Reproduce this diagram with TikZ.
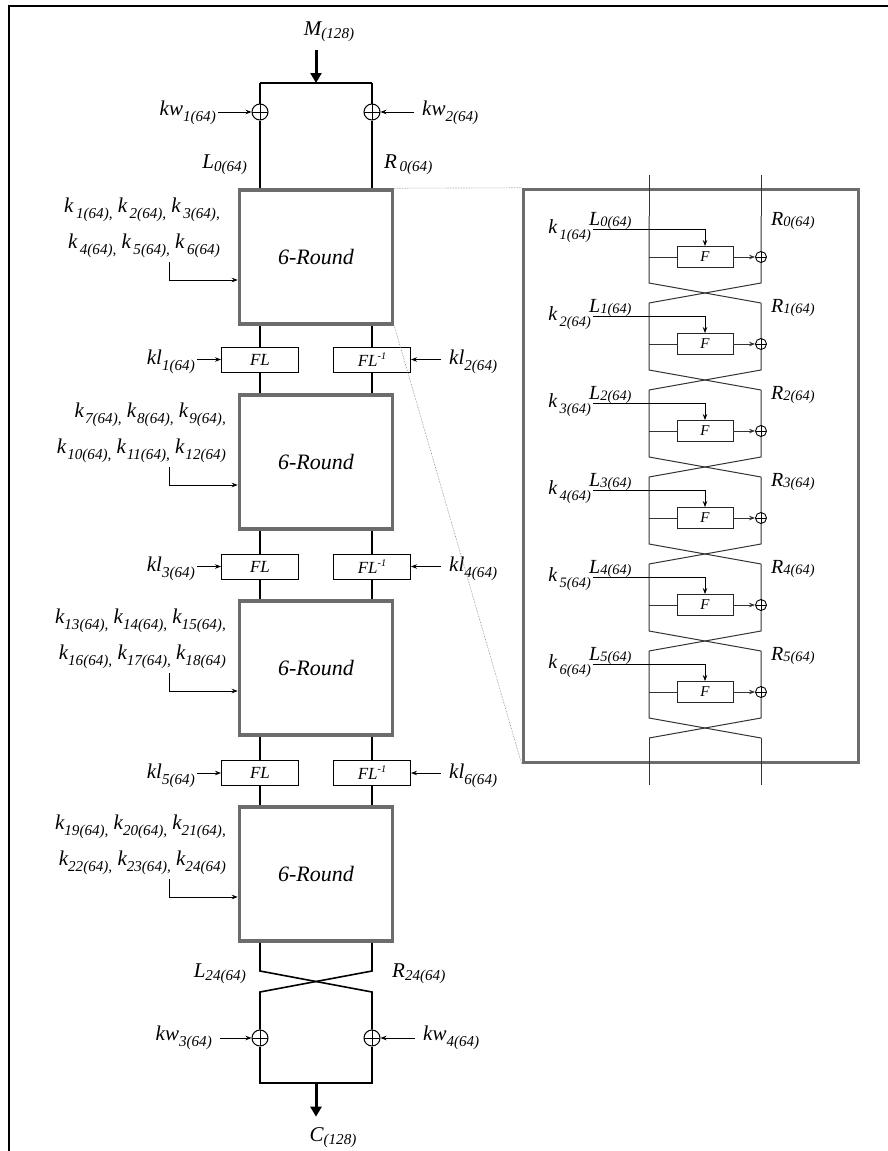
\documentclass[tikz,border=0pt]{standalone}
\usepackage{fontspec}
\setmainfont{Liberation Serif}
\usetikzlibrary{arrows.meta}

\makeatletter
\newcommand{\sbx}[3][.3em]{#2\raisebox{-#1}{\@tempdima=.72\dimexpr\f@size pt\relax\fontsize{\@tempdima}{\@tempdima}\selectfont #3}}
\newcommand{\spx}[2]{#1\raisebox{.42em}{\@tempdima=.6\dimexpr\f@size pt\relax\fontsize{\@tempdima}{\@tempdima}\selectfont #2}}
\makeatother

\tikzset{
    lbl/.style={font=\fontsize{21}{24}\selectfont\itshape, inner sep=2pt},
    plbl/.style={font=\fontsize{20}{22}\selectfont\itshape, inner sep=1pt},
    greyframe/.style={draw=gray!85!black, line width=3.5pt},
    roundbox/.style={greyframe, minimum width=153pt, minimum height=134pt,
        font=\fontsize{22}{24}\selectfont\itshape},
    flbox/.style={draw, line width=1pt, minimum width=77pt, minimum height=25pt,
        inner sep=0pt, font=\fontsize{17}{19}\selectfont\itshape},
    fbox/.style={draw=black!85, line width=.9pt, minimum width=56pt, minimum height=21pt,
        inner sep=0pt, font=\fontsize{15}{17}\selectfont\itshape},
    xorbig/.style={circle, draw, line width=1pt, fill=white, minimum size=16pt, inner sep=0pt,
        path picture={\draw (path picture bounding box.north) -- (path picture bounding box.south)
            (path picture bounding box.west) -- (path picture bounding box.east);}},
    xorsm/.style={xorbig, minimum size=11pt, line width=.9pt},
    wire/.style={line width=1.6pt},
    pwire/.style={line width=1pt, draw=black!80},
    keyarr/.style={line width=.8pt, -{Stealth[length=6pt,width=4.5pt]}},
    bigarr/.style={line width=3pt, -{Triangle[length=10pt,width=11pt]}},
    zoomline/.style={densely dotted, line width=.6pt, draw=gray}
}

\begin{document}
\begin{tikzpicture}[x=1pt,y=-1pt]
    \useasboundingbox (0,0) rectangle (888,1151);
    \draw[line width=2.2pt] (9,1151) -- (9,6) -- (888,6);

    \node[lbl] (M) at (329,32) {\sbx[.15em]{M}{(128)}};
    \coordinate (tl) at (260,83);
    \coordinate (tr) at (372,83);
    \coordinate (tm) at (316,83);
    \draw[wire] (tl) -- (tr);
    \draw[bigarr, shorten <=6pt] (M.south -| tm) -- (tm);

    \node[xorbig] (x1) at (260,112) {};
    \node[xorbig] (x2) at (372,112) {};
    \node[lbl, anchor=base east] (kw1) at (218,115) {\sbx{kw}{1(64)}};
    \node[lbl, anchor=base west] (kw2) at (420,115) {\sbx{kw}{2(64)}};
    \draw[keyarr] (kw1.east |- x1) -- (x1.west);
    \draw[keyarr, shorten <=6pt] (kw2.west |- x2) -- (x2.east);
    \draw[wire] (tl) -- (x1.north);
    \draw[wire] (tr) -- (x2.north);

    \node[lbl, anchor=base east] (l0) at (249,168) {\sbx[.15em]{L}{0(64)}};
    \node[lbl, anchor=base west] (r0) at (382,168) {\sbx[.15em]{R}{\,0(64)}};

    \foreach \i/\yy/\xe/\g/\a/\b/\c/\d/\e/\f in {1/257/222/2.5pt/1/2/3/4/5/6,
        2/462/228/1pt/7/8/9/10/11/12, 3/668/228/0pt/13/14/15/16/17/18,
        4/874/228/0pt/19/20/21/22/23/24}{
        \node[roundbox] (rd\i) at (316,\yy) {6-Round};
        \node[lbl, anchor=base east] (ka\i) at (\xe,\yy-45)
            {\sbx{k}{\hspace{\g}\a(64),} \sbx{k}{\hspace{\g}\b(64),} \sbx{k}{\hspace{\g}\c(64),}};
        \node[lbl, anchor=base east] (kc\i) at (\xe,\yy-9)
            {\sbx{k}{\hspace{\g}\d(64),} \sbx{k}{\hspace{\g}\e(64),} \sbx{k}{\hspace{\g}\f(64)}};
        \coordinate (kb\i) at (169,\yy+5);
        \draw[keyarr] (kb\i) |- ([yshift=-23pt]rd\i.west);
    }

    \draw[wire] (x1.south) -- (rd1.north -| x1);
    \draw[wire] (x2.south) -- (rd1.north -| x2);

    \foreach \j/\n/\yy/\a/\b in {1/2/359.5/1/2, 2/3/566.5/3/4, 3/4/773/5/6}{
        \node[flbox] (fl\j) at (260,\yy) {FL};
        \node[flbox] (fi\j) at (372,\yy) {\spx{FL}{-1}};
        \node[lbl, anchor=base east] (kla\j) at (197,\yy+5) {\sbx{kl}{\a(64)}};
        \node[lbl, anchor=base west] (klb\j) at (447,\yy+5) {\sbx{kl}{\b(64)}};
        \draw[keyarr] (kla\j.east |- fl\j) -- (fl\j.west);
        \draw[keyarr, shorten <=6pt] (klb\j.west |- fi\j) -- (fi\j.east);
        \draw[wire] (rd\j.south -| fl\j) -- (fl\j.north);
        \draw[wire] (rd\j.south -| fi\j) -- (fi\j.north);
        \draw[wire] (fl\j.south) -- (rd\n.north -| fl\j);
        \draw[wire] (fi\j.south) -- (rd\n.north -| fi\j);
    }

    \coordinate (cl1) at (260,971);
    \coordinate (cr1) at (372,971);
    \coordinate (cl2) at (260,992);
    \coordinate (cr2) at (372,992);
    \node[lbl, anchor=base east] (l24) at (248,977) {\sbx[.15em]{L}{24(64)}};
    \node[lbl, anchor=base west] (r24) at (390,977) {\sbx[.15em]{R}{24(64)}};
    \node[xorbig] (x3) at (260,1038) {};
    \node[xorbig] (x4) at (372,1038) {};
    \draw[wire] (rd4.south -| cl1) -- (cl1) -- (cr2) -- (x4.north);
    \draw[wire] (rd4.south -| cr1) -- (cr1) -- (cl2) -- (x3.north);
    \node[lbl, anchor=base east] (kw3) at (214,1040) {\sbx{kw}{3(64)}};
    \node[lbl, anchor=base west] (kw4) at (421,1040) {\sbx{kw}{4(64)}};
    \draw[keyarr, shorten <=6pt] (kw3.east |- x3) -- (x3.west);
    \draw[keyarr, shorten <=6pt] (kw4.west |- x4) -- (x4.east);

    \coordinate (bl) at (260,1083);
    \coordinate (br) at (372,1083);
    \coordinate (bm) at (316,1083);
    \draw[wire] (x3.south) -- (bl) -- (br) -- (x4.south);
    \node[lbl] (C) at (333,1138) {\sbx[.15em]{C}{(128)}};
    \draw[bigarr, shorten >=9pt] (bm) -- (C.north -| bm);

    % zoomed 6-round
    \node[greyframe, minimum width=335pt, minimum height=573pt] (panel) at (691,476) {};
    \draw[zoomline] (rd1.north east) -- (panel.north west);
    \draw[zoomline] (rd1.south east) -- (panel.south west);

    \coordinate (pl) at (649,0);
    \coordinate (pr) at (761,0);
    \draw[pwire] (649,175) -- (649,216);
    \draw[pwire] (761,175) -- (761,216);
    \draw[pwire] (649,738) -- (649,785);
    \draw[pwire] (761,738) -- (761,785);

    \foreach \i [evaluate=\i as \yf using {257+87*\i}, evaluate=\i as \n using {int(\i+1)}] in {0,...,5}{
        \draw[pwire] (649,\yf-41) -- (649,\yf+26) -- (761,\yf+46);
        \draw[pwire] (761,\yf-41) -- (761,\yf+26) -- (649,\yf+46);
        \node[fbox] (F\i) at (705,\yf) {F};
        \node[xorsm] (px\i) at (761,\yf) {};
        \draw[pwire] (F\i.west -| pl) -- (F\i.west);
        \draw[pwire, keyarr] (F\i.east) -- (px\i.west);
        \node[plbl, anchor=base east] (kk\i) at (592,\yf-24) {\sbx{k}{\,\n(64)}};
        \node[plbl, anchor=base west] (ll\i) at (588,\yf-32) {\sbx[.08em]{L}{\i(64)}};
        \node[plbl, anchor=base west] (rr\i) at (770,\yf-32) {\sbx[.08em]{R}{\i(64)}};
        \coordinate (ks\i) at (593,\yf-28);
        \draw[keyarr] (ks\i) -| (F\i.north);
    }
\end{tikzpicture}
\end{document}
